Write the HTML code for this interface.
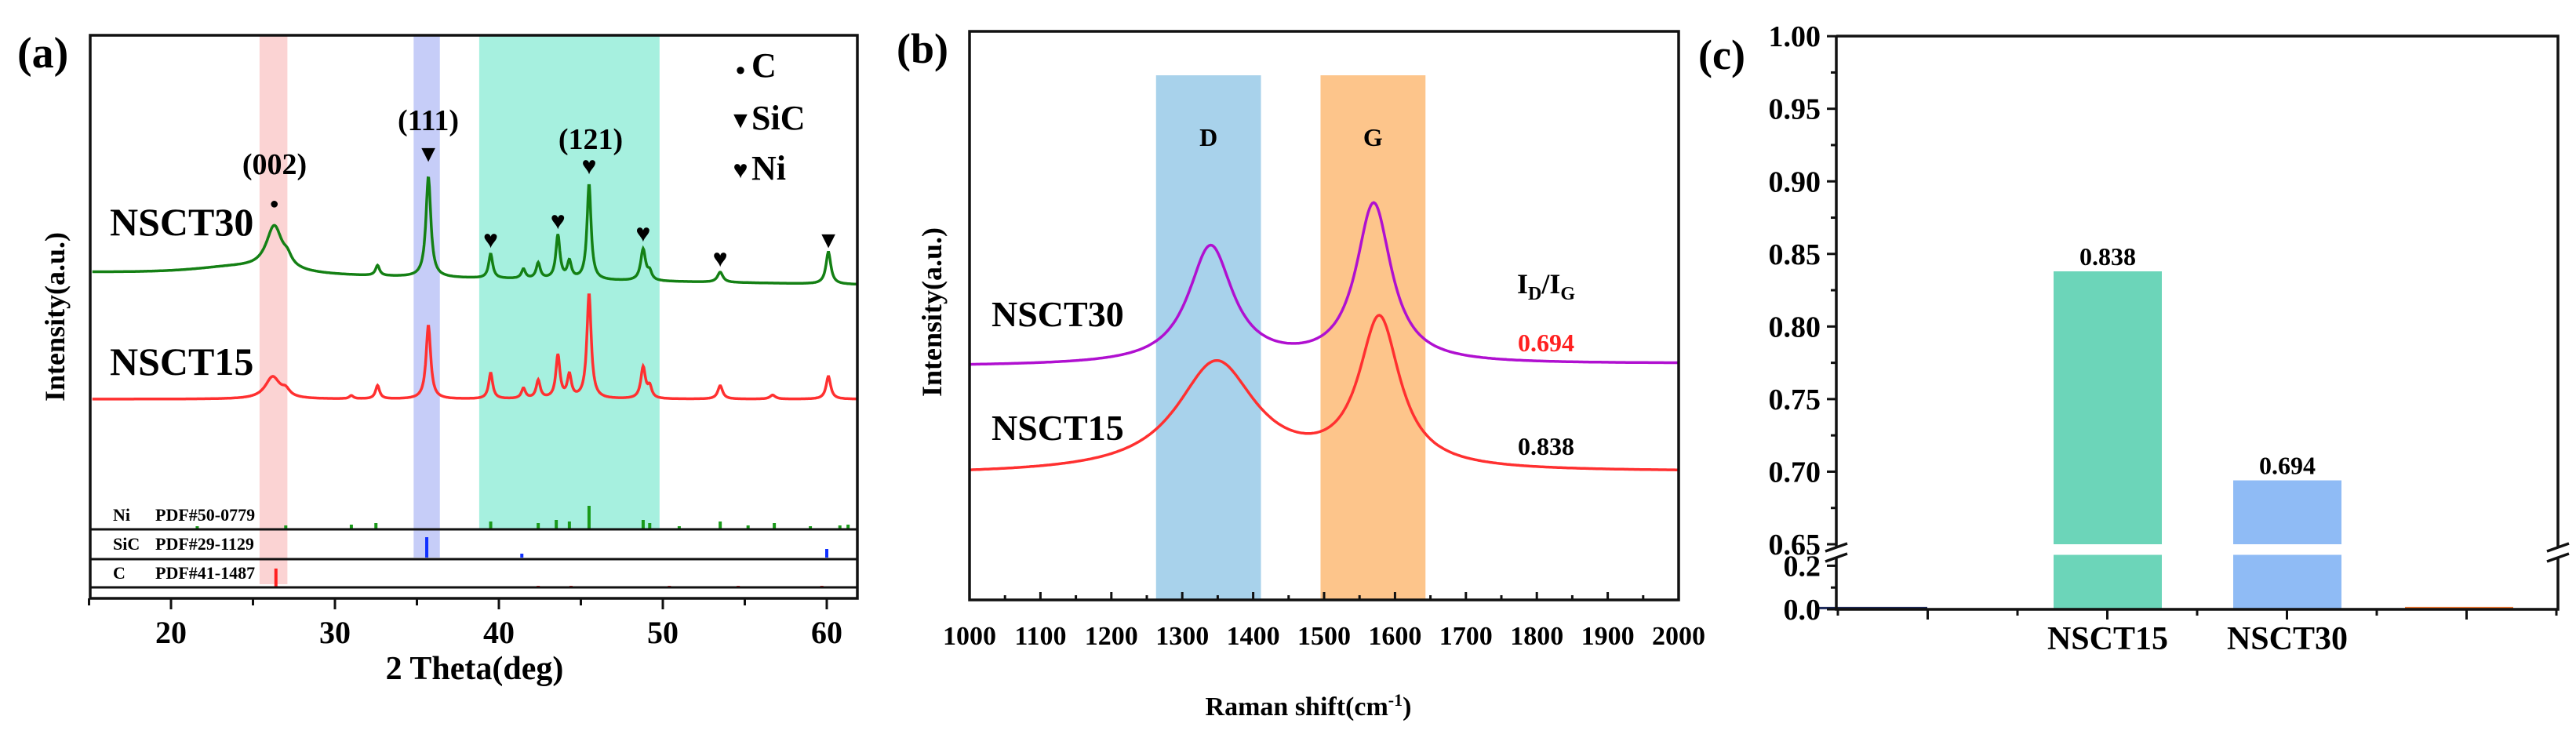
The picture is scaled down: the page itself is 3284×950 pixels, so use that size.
<!DOCTYPE html>
<html><head><meta charset="utf-8"><style>
html,body{margin:0;padding:0;background:#fff;}
svg{display:block;}
svg text{font-family:"Liberation Serif","DejaVu Serif",serif;font-weight:bold;}
</style></head><body>
<svg id="fig" width="3284" height="950" viewBox="0 0 3284 950" xmlns="http://www.w3.org/2000/svg" font-family="Liberation Serif, serif" font-weight="bold">
<g id="pa"></g>
<g id="pb"></g>
<g id="pc"></g>
</svg>
<script>
// ---------- Panel (a) XRD data ----------
const xrdTicks = [20, 30, 40, 50, 60];
const xrdBands = [[25.4, 27.1, '#fbd3d3', 745], [34.8, 36.4, '#c6cdf8', 711], [38.8, 49.8, '#a6f0df', 675]];
const n30Pos = [24.0, 26.3, 27.1, 32.6, 35.7, 39.5, 41.5, 42.4, 43.6, 44.3, 45.5, 48.8, 49.2, 53.5, 60.1];
const n30Amp = [10, 56, 10, 13, 128, 31, 12, 20, 56, 22, 122, 40, 10, 13, 41];
const n30Wid = [3.5, 0.6, 0.3, 0.15, 0.18, 0.15, 0.15, 0.15, 0.15, 0.15, 0.15, 0.18, 0.15, 0.2, 0.18];
const n30Base = [415, 400];
const n15Pos = [26.2, 27.0, 31.0, 32.6, 35.7, 39.5, 41.5, 42.4, 43.6, 44.3, 45.5, 48.8, 49.2, 53.5, 56.7, 60.1];
const n15Amp = [28, 8, 4, 17, 94, 33, 13, 23, 55, 29, 134, 40, 14, 17, 5, 29];
const n15Wid = [0.55, 0.3, 0.15, 0.15, 0.17, 0.15, 0.15, 0.15, 0.15, 0.15, 0.16, 0.17, 0.15, 0.18, 0.2, 0.17];
const n15Base = [254, 254];
const niRef = [[21.6,4],[27,5],[31,6],[32.5,8],[39.5,10],[42.4,8],[43.5,12],[44.3,10],[45.5,30],[48.8,12],[49.2,8],[51,4],[53.5,10],[55.2,5],[56.8,8],[59,4],[60.8,5],[61.3,6]];
const sicRef = [[35.6,26],[41.4,5],[60,11]];
const cRef = [[26.4,24],[42.4,2],[44.4,2],[50.4,2],[54.6,2],[59.7,2]];

// ---------- Panel (b) Raman data ----------
const ramanTicks = [1000,1100,1200,1300,1400,1500,1600,1700,1800,1900,2000];
const ramanBands = [[1263,1411,'#a8d2eb','D'],[1495,1643,'#fdc58b','G']];
const p30Centers = [1340, 1570];
const p30Heights = [150, 203];
const p30Gammas = [38, 30];
const p30Base = [298, 301];
const p15Centers = [1348, 1578];
const p15Heights = [140, 190];
const p15Gammas = [68, 35];
const p15Base = [160, 163];

// ---------- Panel (c) bar data ----------
const barCats = ['', 'NSCT15', 'NSCT30', ''];
const barVals = [0.004, 0.838, 0.694, 0.004];
const barLabels = ['', '0.838', '0.694', ''];
const barColors = ['#1d2a5a', '#6cd5b9', '#8fbbf5', '#f07830'];
const upperTicks = [1.00, 0.95, 0.90, 0.85, 0.80, 0.75, 0.70, 0.65];
const lowerTicks = [0.0, 0.2];

const NS = 'http://www.w3.org/2000/svg';
function mk(parent, tag, attrs, text){
  const e = document.createElementNS(NS, tag);
  for (const k in attrs) e.setAttribute(k, attrs[k]);
  if (tag === 'text') { e.setAttribute('font-family', 'Liberation Serif, serif'); e.setAttribute('font-weight', 'bold'); }
  if (text !== undefined) e.textContent = text;
  parent.appendChild(e);
  return e;
}

// ===== Panel (a) =====
(function(){
  const g = document.getElementById('pa');
  const L=115, R=1093, T=45, B=763;
  const xa = d => 113.5 + (d - 15) * 20.9;
  const ya = v => B - v;
  xrdBands.forEach(b => {
    const r = mk(g,'rect',{x:xa(b[0]),y:T,width:xa(b[1])-xa(b[0]),height:b[3]-T,fill:b[2]});
    
    
  });
  function curve(pos, amp, wid, base, color, name){
    let d='';
    for (let x=15.2; x<=61.85; x+=0.04){
      let v = base[0] + (base[1]-base[0])*(x-15)/47;
      for (let i=0;i<pos.length;i++){ const t=(x-pos[i])/wid[i]; v += amp[i]/(1+t*t); }
      d += (d?'L':'M') + xa(x).toFixed(1) + ',' + ya(v).toFixed(1);
    }
    const p = mk(g,'path',{d:d,fill:'none',stroke:color,'stroke-width':3.5});
    
    
  }
  curve(n30Pos,n30Amp,n30Wid,n30Base,'#148014','nsct30-xrd-line');
  curve(n15Pos,n15Amp,n15Wid,n15Base,'#ff3030','nsct15-xrd-line');
  function sticks(arr, bottom, color, name){
    arr.forEach(s => {
      const r = mk(g,'rect',{x:xa(s[0])-2,y:bottom-s[1],width:4,height:s[1],fill:color});
      
      
    });
  }
  sticks(niRef, 675, '#1a9a1a', 'ni-reference-stick');
  sticks(sicRef, 711, '#1030ff', 'sic-reference-stick');
  sticks(cRef, 749, '#ff2020', 'c-reference-stick');
  [675,713,749].forEach(y=>{ const l=mk(g,'line',{x1:L,x2:R,y1:y,y2:y,stroke:'#111','stroke-width':3});  });
  const fr = mk(g,'rect',{x:L,y:T,width:R-L,height:B-T,fill:'none',stroke:'#111','stroke-width':3.5});
   
  for (let d=15; d<=60; d+=5){
    const major = xrdTicks.includes(d);
    const t = mk(g,'line',{x1:xa(d),x2:xa(d),y1:B,y2:B+(major?14:9),stroke:'#111','stroke-width':3});
     
  }
  xrdTicks.forEach(d=>{ const t=mk(g,'text',{x:xa(d),y:820,'font-size':40,'text-anchor':'middle'},String(d));  });
  const xt = mk(g,'text',{x:605,y:866,'font-size':42,'text-anchor':'middle'},'2 Theta(deg)');
   
  const yt = mk(g,'text',{x:0,y:0,'font-size':36,'text-anchor':'middle',transform:'translate(82,404) rotate(-90)'},'Intensity(a.u.)');
   
  const lab = mk(g,'text',{x:22,y:86,'font-size':56},'(a)');
   
  [['NSCT30',300],['NSCT15',478]].forEach(s=>{const t=mk(g,'text',{x:140,y:s[1],'font-size':50},s[0]);  });
  [['(002)',350,222],['(111)',546,166],['(121)',753,190]].forEach(s=>{const t=mk(g,'text',{x:s[1],y:s[2],'font-size':38,'text-anchor':'middle'},s[0]);  });
  const marks = [['●',26.3,266,20],['▼',35.7,206,30],['♥',45.5,222,32],['♥',39.5,316,32],['♥',43.6,292,32],['♥',48.8,308,32],['♥',53.5,340,32],['▼',60.1,316,30]];
  marks.forEach(m=>{const t=mk(g,'text',{x:xa(m[1]),y:m[2],'font-size':m[3],'text-anchor':'middle'},m[0]);  });
  [['●',' C',96,22],['▼',' SiC',163,30],['♥',' Ni',227,32]].forEach(s=>{
    const t=mk(g,'text',{x:944,y:s[2],'font-size':s[3],'text-anchor':'middle'},s[0]);  
    const u=mk(g,'text',{x:958,y:s[2]+2,'font-size':44},s[1]);  
  });
  [['Ni','PDF#50-0779',664],['SiC','PDF#29-1129',701],['C','PDF#41-1487',738]].forEach(s=>{
    const a=mk(g,'text',{x:144,y:s[2],'font-size':22},s[0]);  
    const b=mk(g,'text',{x:198,y:s[2],'font-size':22},s[1]);  
  });
})();

// ===== Panel (b) =====
(function(){
  const g = document.getElementById('pb');
  const L=1236, R=2140, T=40, B=765;
  const xr = w => L + (w-1000)*0.904;
  const yr = v => B - v;
  ramanBands.forEach(b=>{
    const r=mk(g,'rect',{x:xr(b[0]),y:96,width:xr(b[1])-xr(b[0]),height:B-96,fill:b[2]});
     
    const t=mk(g,'text',{x:(xr(b[0])+xr(b[1]))/2,y:186,'font-size':32,'text-anchor':'middle'},b[3]);
     
  });
  function curve(c,h,gm,base,color,name){
    let d='';
    for (let w=1000; w<=2000; w+=2){
      let v = base[0]+(base[1]-base[0])*(w-1000)/1000;
      for (let i=0;i<c.length;i++){const t=(w-c[i])/gm[i]; v+=h[i]/(1+t*t);}
      d += (d?'L':'M')+xr(w).toFixed(1)+','+yr(v).toFixed(1);
    }
    const p=mk(g,'path',{d:d,fill:'none',stroke:color,'stroke-width':3.5});
     
  }
  curve(p30Centers,p30Heights,p30Gammas,p30Base,'#b010d0','nsct30-raman-line');
  curve(p15Centers,p15Heights,p15Gammas,p15Base,'#ff3030','nsct15-raman-line');
  const fr=mk(g,'rect',{x:L,y:T,width:R-L,height:B-T,fill:'none',stroke:'#111','stroke-width':3.5});
   
  for (let w=1000; w<=2000; w+=50){
    const major = w%100===0;
    const t=mk(g,'line',{x1:xr(w),x2:xr(w),y1:B,y2:B-(major?10:6),stroke:'#111','stroke-width':3});
     
  }
  ramanTicks.forEach(w=>{const t=mk(g,'text',{x:xr(w),y:822,'font-size':34,'text-anchor':'middle'},String(w));  });
  const xt=mk(g,'text',{x:1668,y:912,'font-size':34,'text-anchor':'middle'});
   
  xt.appendChild(document.createTextNode('Raman shift(cm'));
  const sup=mk(xt,'tspan',{'font-size':22,dy:-12},'-1');  
  mk(xt,'tspan',{dy:12},')');
  const yt=mk(g,'text',{x:0,y:0,'font-size':36,'text-anchor':'middle',transform:'translate(1200,398) rotate(-90)'},'Intensity(a.u.)');
   
  const lab=mk(g,'text',{x:1143,y:80,'font-size':54},'(b)');
   
  [['NSCT30',416],['NSCT15',561]].forEach(s=>{const t=mk(g,'text',{x:1264,y:s[1],'font-size':46},s[0]);  });
  const ig=mk(g,'text',{x:1934,y:374,'font-size':36});
   
  ig.appendChild(document.createTextNode('I'));
  mk(ig,'tspan',{'font-size':24,dy:8},'D');
  mk(ig,'tspan',{dy:-8},'/I');
  mk(ig,'tspan',{'font-size':24,dy:8},'G');
  const a=mk(g,'text',{x:1935,y:448,'font-size':32,fill:'#ff2020'},'0.694');  
  const b=mk(g,'text',{x:1935,y:580,'font-size':32},'0.838');  
})();

// ===== Panel (c) =====
(function(){
  const g=document.getElementById('pc');
  const L=2341, R=3261, T=46, B=777;
  const yb = v => v>=0.65 ? 694-(v-0.65)*1851 : B - v*278;
  const xc = i => 2458 + i*229;
  const bw = 138;
  barVals.forEach((v,i)=>{
    if (v >= 0.65){
      const lo=mk(g,'rect',{x:xc(i)-bw/2,y:yb(0.25),width:bw,height:B-yb(0.25),fill:barColors[i]});
       
      const up=mk(g,'rect',{x:xc(i)-bw/2,y:yb(v),width:bw,height:yb(0.65)-yb(v),fill:barColors[i]});
       
      const t=mk(g,'text',{x:xc(i),y:yb(v)-8,'font-size':32,'text-anchor':'middle'},barLabels[i]);
       
    } else {
      const r=mk(g,'rect',{x:xc(i)-bw/2+(i===0?-70:-10),y:yb(v)-2,width:bw,height:3,fill:barColors[i]});
       
    }
    if (barCats[i]){const t=mk(g,'text',{x:xc(i),y:828,'font-size':42,'text-anchor':'middle'},barCats[i]);  }
  });
  const ax=mk(g,'path',{d:`M${L},${T}L${R},${T}L${R},699M${R},710L${R},${B}L${L},${B}L${L},710M${L},699L${L},${T}`,fill:'none',stroke:'#111','stroke-width':3.5});
   
  [L,R].forEach(x=>{
    const br=mk(g,'path',{d:`M${x-14},${703}L${x+14},${693}M${x-14},${716}L${x+14},${706}`,stroke:'#111','stroke-width':3.5,fill:'none'});
     
  });
  for (let v=0.65; v<=1.0001; v+=0.025){
    const major = Math.abs(v*20-Math.round(v*20))<1e-6;
    const t=mk(g,'line',{x1:L-(major?12:7),x2:L,y1:yb(v),y2:yb(v),stroke:'#111','stroke-width':3});
     
  }
  [0,0.1,0.2].forEach(v=>{const t=mk(g,'line',{x1:L-(v===0.1?7:12),x2:L,y1:yb(v),y2:yb(v),stroke:'#111','stroke-width':3});  });
  upperTicks.forEach(v=>{const t=mk(g,'text',{x:L-20,y:yb(v)+13,'font-size':38,'text-anchor':'end'},v.toFixed(2));  });
  lowerTicks.forEach(v=>{const t=mk(g,'text',{x:L-20,y:yb(v)+13,'font-size':38,'text-anchor':'end'},v.toFixed(1));  });
  for (let i=0;i<=8;i++){
    const x=2343+i*114.5;
    const t=mk(g,'line',{x1:x,x2:x,y1:B,y2:B+(i%2?13:8),stroke:'#111','stroke-width':3});
     
  }
  const lab=mk(g,'text',{x:2165,y:88,'font-size':54},'(c)');
   
})();
</script>
</body></html>
